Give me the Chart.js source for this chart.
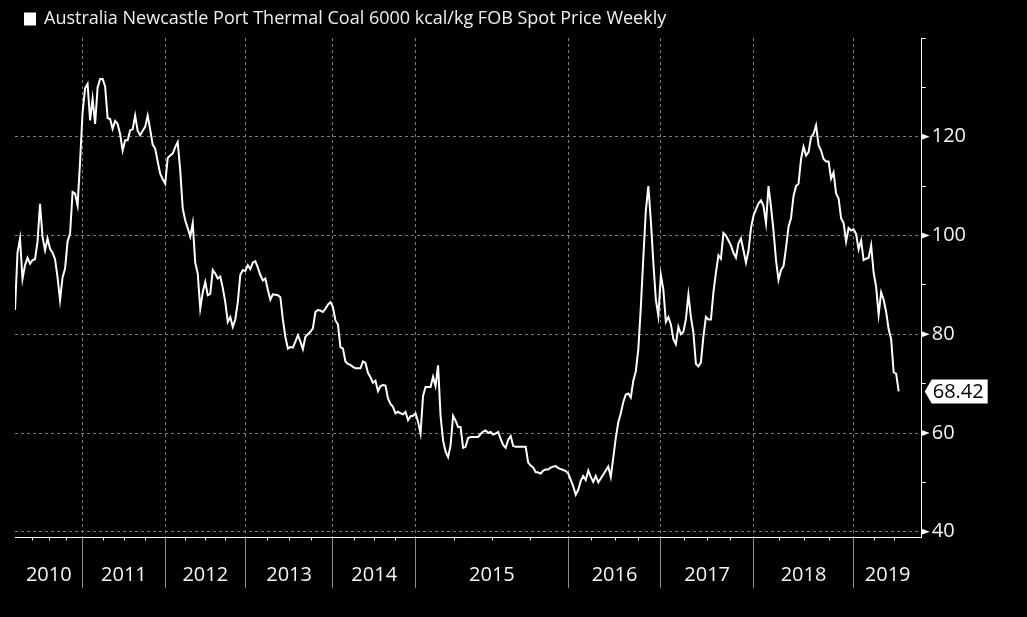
<!DOCTYPE html>
<html>
<head>
<meta charset="utf-8">
<script src="https://cdn.jsdelivr.net/npm/chart.js@4.4.1/dist/chart.umd.min.js"></script>
<style>
html,body{margin:0;padding:0;background:#000;}
canvas{display:block;}
</style>
</head>
<body>
<canvas id="c" width="1027" height="617"></canvas>
<script>
// ---------------- DATA ----------------
const seriesName = 'Australia Newcastle Port Thermal Coal 6000 kcal/kg FOB Spot Price Weekly';
const years = ['2010','2011','2012','2013','2014','2015','2016','2017','2018','2019'];

const v2010 = [84.9,96.5,99.4,91.2,94.0,95.5,94.3,95.0,95.2,98.7,106.4,99.7,97.0,99.4,97.3,96.5,95.2,91.5,86.9,91.5,93.3,98.8,100.4,108.8,108.5,106.1,115.0];
const v2011 = [125.0,129.8,130.7,123.3,127.7,122.6,130.0,131.7,131.7,130.2,123.8,123.6,121.6,123.2,122.6,120.5,117.2,119.3,119.3,121.3,121.5,124.3,121.2,120.3,121.2,122.0,124.3,121.5,118.4,117.6,115.0,112.5,111.4];
const v2012 = [110.5,115.7,116.2,116.6,117.9,118.9,113.2,105.5,103.1,101.5,99.8,102.5,94.5,92.3,85.2,88.5,90.6,87.9,88.2,93.0,92.3,91.3,91.7,89.4,86.5,82.5,83.5,81.5,83.0,86.5,92.0,93.0];
const v2013 = [92.8,94.0,93.2,94.5,94.8,93.5,92.0,90.9,91.3,89.0,87.0,88.1,88.0,87.9,87.5,83.0,79.5,77.1,77.4,77.3,78.5,79.8,78.5,77.0,79.5,80.0,80.5,81.2,84.5,84.9,84.8,84.5,85.2,86.0,86.5];
const v2014 = [85.5,82.8,82.0,77.4,77.1,74.5,74.0,73.8,73.4,73.1,73.1,73.1,74.5,74.2,72.2,71.3,70.2,70.6,68.5,69.5,69.7,69.6,67.0,65.9,65.3,64.0,64.3,64.0,63.8,64.3,62.6,63.4,63.5];
const v2015 = [64.0,62.3,59.9,67.5,69.3,69.3,69.3,71.4,69.5,73.7,63.5,58.5,56.2,55.1,57.5,63.5,62.5,61.2,61.2,57.0,57.2,59.0,59.2,59.2,59.2,59.2,59.8,60.3,60.5,60.0,60.2,59.7,59.9,60.2,58.8,57.6,57.0,58.6,59.4,57.4,57.2,57.2,57.2,57.2,57.2,54.0,53.4,53.0,52.1,52.0,51.8,52.4,52.6,52.6,53.0,53.2,53.3,52.9,52.7,52.5,52.3];
const v2016 = [51.8,50.5,49.2,47.5,48.5,50.3,51.3,50.5,52.4,51.1,50.1,51.3,50.0,50.8,51.6,52.4,53.2,51.1,55.0,59.0,62.2,64.0,66.3,67.8,68.0,67.2,70.6,72.5,77.0,85.5,95.5,105.0,110.0,103.0,94.5,87.0,83.7];
const v2017 = [92.0,89.0,82.5,83.5,82.0,79.0,78.0,81.5,80.0,80.5,83.0,88.0,83.5,80.3,74.0,73.5,74.3,79.5,83.5,83.0,83.0,88.5,92.5,96.0,95.3,100.5,100.0,99.0,98.0,96.5,95.5,98.4,99.4,97.0,94.5,96.9,101.5];
const v2018 = [104.0,105.3,106.5,107.1,106.0,102.5,110.0,105.8,101.0,95.0,91.0,93.0,93.8,97.5,101.8,103.5,108.0,110.0,110.5,115.5,118.0,116.2,116.9,119.9,120.6,122.3,118.3,117.2,115.5,115.0,115.0,111.5,112.8,108.5,107.5,103.5,102.5,98.8,101.5,101.0];
const v2019 = [101.3,100.3,97.2,99.0,95.0,95.3,95.5,98.0,92.5,89.6,84.0,88.5,87.0,84.5,81.0,79.0,72.3,72.0,68.42];

const yMajorTicks = [40,60,80,100,120];
const yMinorTicks = [50,70,90,110,130,140];

// ---------------- BUILD ----------------
const yearData = [v2010,v2011,v2012,v2013,v2014,v2015,v2016,v2017,v2018,v2019];
const values = [].concat(...yearData);
const yearStart = [];
{ let acc = 0; yearData.forEach(a => { yearStart.push(acc); acc += a.length; }); }
const lastIndex = values.length - 1;
const X_RIGHT_PAD = 9.2;          // empty space after last point (in points)
const X_MAX = lastIndex + X_RIGHT_PAD;
const LAST_YEAR_QUARTER_LEN = 8;

const xTickDefs = [];
years.forEach((yr, k) => {
  const s = yearStart[k];
  const e = k < years.length - 1 ? yearStart[k + 1] : X_MAX;
  if (k > 0) xTickDefs.push({ value: s, text: '', kind: 'b' });
  xTickDefs.push({ value: (s + e) / 2, text: yr, kind: 'c' });
});
xTickDefs.sort((a, b) => a.value - b.value);

const yAllTicks = [...yMajorTicks, ...yMinorTicks].sort((a, b) => a - b);
const isMajorY = v => yMajorTicks.some(t => Math.abs(t - v) < 1e-6);

const FONT = "'Open Sans', 'Noto Sans', sans-serif";
const GRID = '#7a7a7a';

const decor = {
  id: 'decor',
  afterDraw(chart) {
    const { ctx, chartArea: ca, scales: { x, y } } = chart;
    ctx.save();
    // quarterly minor ticks under x axis
    ctx.strokeStyle = '#ffffff';
    ctx.lineWidth = 1;
    years.forEach((yr, k) => {
      const s = yearStart[k];
      const n = yearData[k].length;
      const pos = [];
      if (k < years.length - 1) {
        for (let q = 1; q < 4; q++) pos.push(s + n * q / 4);
      } else {
        for (let q = 1; s + q * LAST_YEAR_QUARTER_LEN <= lastIndex; q++) pos.push(s + q * LAST_YEAR_QUARTER_LEN);
      }
      pos.forEach(p => {
        const px = Math.round(x.getPixelForValue(p)) + 0.5;
        ctx.beginPath();
        ctx.moveTo(px, ca.bottom);
        ctx.lineTo(px, ca.bottom + 3.5);
        ctx.stroke();
      });
    });
    // triangles at major y ticks
    ctx.fillStyle = '#ffffff';
    yMajorTicks.forEach(v => {
      const py = y.getPixelForValue(v);
      ctx.beginPath();
      ctx.moveTo(ca.right, py - 3);
      ctx.lineTo(ca.right + 8, py);
      ctx.lineTo(ca.right, py + 3);
      ctx.closePath();
      ctx.fill();
    });
    // last value badge
    const last = values[lastIndex];
    const py = y.getPixelForValue(last);
    const txt = last.toFixed(2);
    ctx.font = '20px ' + FONT;
    const w = ctx.measureText(txt).width;
    const bl = ca.right + 10, h = 12;
    ctx.beginPath();
    ctx.moveTo(ca.right + 3, py);
    ctx.lineTo(bl, py - h);
    ctx.lineTo(bl + w + 5, py - h);
    ctx.lineTo(bl + w + 5, py + h);
    ctx.lineTo(bl, py + h);
    ctx.closePath();
    ctx.fill();
    ctx.fillStyle = '#000000';
    ctx.textBaseline = 'middle';
    ctx.textAlign = 'left';
    ctx.fillText(txt, bl + 1, py + 1);
    ctx.restore();
  }
};

Chart.defaults.font.family = FONT;

new Chart(document.getElementById('c'), {
  type: 'line',
  data: {
    datasets: [{
      label: seriesName,
      data: values.map((v, i) => ({ x: i, y: v })),
      borderColor: '#ffffff',
      backgroundColor: '#ffffff',
      borderWidth: 2,
      pointRadius: 0,
      fill: false,
      tension: 0
    }]
  },
  options: {
    responsive: false,
    devicePixelRatio: 1,
    animation: false,
    layout: { padding: { top: 0, left: 15, right: 0, bottom: 0 } },
    plugins: {
      legend: {
        display: true,
        position: 'top',
        align: 'start',
        labels: {
          boxWidth: 10,
          boxHeight: 11,
          padding: 10,
          color: '#f0f0f0',
          font: { size: 18, family: FONT }
        }
      },
      tooltip: { enabled: false }
    },
    scales: {
      x: {
        type: 'linear',
        min: 0,
        max: X_MAX,
        afterBuildTicks: s => { s.ticks = xTickDefs.map(d => ({ value: d.value })); },
        afterFit: s => { s.height = 80; },
        ticks: {
          autoSkip: false,
          maxRotation: 0,
          minRotation: 0,
          padding: -25,
          color: '#f5f5f5',
          font: { size: 20, family: FONT },
          callback: (v, i) => xTickDefs[i] ? xTickDefs[i].text : ''
        },
        grid: {
          display: true,
          drawOnChartArea: true,
          drawTicks: true,
          tickLength: 51,
          lineWidth: 1,
          tickWidth: 1,
          color: c => (xTickDefs[c.index] && xTickDefs[c.index].kind === 'b') ? GRID : 'rgba(0,0,0,0)',
          tickColor: c => (xTickDefs[c.index] && xTickDefs[c.index].kind === 'b') ? '#8c8c8c' : 'rgba(0,0,0,0)'
        },
        border: { display: true, color: '#ffffff', width: 1, dash: [3, 3] }
      },
      y: {
        type: 'linear',
        position: 'right',
        min: 38.94,
        max: 140,
        afterBuildTicks: s => { s.ticks = yAllTicks.map(v => ({ value: v })); },
        afterFit: s => { s.width = 105.3; },
        ticks: {
          autoSkip: false,
          padding: 6,
          color: '#f5f5f5',
          font: { size: 20, family: FONT },
          callback: v => isMajorY(v) ? String(v) : ''
        },
        grid: {
          display: true,
          drawOnChartArea: true,
          drawTicks: true,
          tickLength: 4,
          lineWidth: 1,
          color: c => (c.tick && isMajorY(c.tick.value)) ? GRID : 'rgba(0,0,0,0)',
          tickColor: '#ffffff'
        },
        border: { display: true, color: '#ffffff', width: 1, dash: [3, 3] }
      }
    }
  },
  plugins: [decor]
});
</script>
</body>
</html>
